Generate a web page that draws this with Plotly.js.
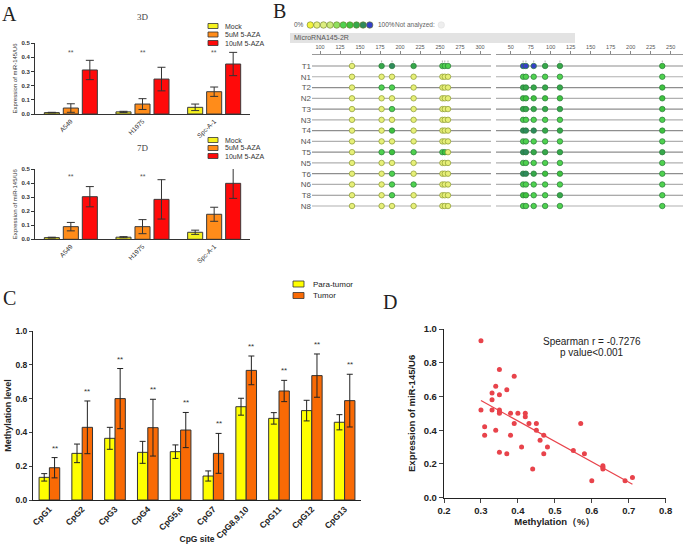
<!DOCTYPE html>
<html><head><meta charset="utf-8">
<script src="https://cdn.plot.ly/plotly-3.0.1.min.js"></script>
<style>html,body{margin:0;padding:0;background:#fff}#chart{width:685px;height:544px}</style>
</head><body><div id="chart"></div>
<script>
// ---------- Panel A data ----------
const cellLines = ['A549', 'H1975', 'Spc-A-1'];
const treatments = ['Mock', '5uM 5-AZA', '10uM 5-AZA'];
const a3dMock = [0.010, 0.015, 0.047];
const a3dMockErr = [0.002, 0.004, 0.023];
const a3d5uM = [0.042, 0.070, 0.157];
const a3d5uMErr = [0.030, 0.038, 0.033];
const a3d10uM = [0.310, 0.246, 0.352];
const a3d10uMErr = [0.068, 0.083, 0.082];
const a7dMock = [0.012, 0.015, 0.050];
const a7dMockErr = [0.003, 0.004, 0.015];
const a7d5uM = [0.090, 0.090, 0.178];
const a7d5uMErr = [0.030, 0.050, 0.050];
const a7d10uM = [0.303, 0.284, 0.398];
const a7d10uMErr = [0.072, 0.140, 0.107];

// ---------- Panel B data ----------
const rowLabels = ['T1','N1','T2','N2','T3','N3','T4','N4','T5','N5','T6','N6','T8','N8'];
const cpgLeftPos = [140, 177, 190, 217, 253, 256, 260];
const cpgLeftNum = ['1','2','3','4','5','6','7'];
const cpgRightPos = [65.5, 69, 78.75, 93, 111.5, 239.5];
const cpgRightNum = ['1','2','3','4','5','6'];
const rulerLeftTicks = [100,125,150,175,200,225,250,275,300];
const rulerRightTicks = [50,75,100,125,150,175,200,225,250];
const methColors = ['#f4f43c','#e6ef78','#dcee80','#c8ea7a','#8fe05e','#4fd14f','#3fc23f','#36a84a','#2e8a5c','#3540c8'];
// methylation level index (0 = 0%, 9 = 100%) per row, per CpG site
const levelsLeft = [
  [1,7,8,7,5,5,5],
  [1,1,1,1,1,1,1],
  [1,5,5,1,1,1,1],
  [1,1,1,1,1,1,1],
  [1,1,5,1,1,1,1],
  [1,1,1,1,1,1,1],
  [1,1,6,1,1,1,1],
  [1,1,1,1,1,1,1],
  [1,5,6,5,5,6,1],
  [1,1,1,1,1,1,1],
  [1,1,5,1,1,1,1],
  [1,1,5,5,1,1,1],
  [1,1,5,1,1,1,1],
  [1,1,1,1,1,1,1]
];
const levelsRight = [
  [9,9,9,7,7,6],
  [5,5,5,5,5,5],
  [7,7,7,7,7,6],
  [6,6,6,6,6,6],
  [7,7,7,7,7,6],
  [5,5,5,5,5,5],
  [8,8,8,7,7,6],
  [5,5,5,5,5,5],
  [8,8,7,7,7,7],
  [5,5,5,5,5,5],
  [8,8,7,6,6,5],
  [5,5,5,5,5,5],
  [6,6,5,5,7,5],
  [5,5,5,5,5,5]
];

// ---------- Panel C data ----------
const cpgSites = ['CpG1','CpG2','CpG3','CpG4','CpG5,6','CpG7','CpG8,9,10','CpG11','CpG12','CpG13'];
const paraTumor = [0.134, 0.276, 0.365, 0.282, 0.286, 0.142, 0.552, 0.483, 0.529, 0.460];
const paraTumorErr = [0.022, 0.055, 0.065, 0.065, 0.040, 0.030, 0.050, 0.034, 0.061, 0.045];
const tumor = [0.191, 0.430, 0.600, 0.428, 0.414, 0.276, 0.767, 0.645, 0.736, 0.588];
const tumorErr = [0.060, 0.156, 0.178, 0.168, 0.104, 0.118, 0.085, 0.063, 0.128, 0.156];

// ---------- Panel D data ----------
const methylation = [0.30,0.30,0.31,0.31,0.33,0.33,0.33,0.34,0.34,0.35,0.35,0.35,0.35,0.35,0.35,0.37,0.37,0.38,0.38,0.39,0.39,0.40,0.41,0.42,0.42,0.43,0.44,0.45,0.45,0.46,0.47,0.47,0.48,0.55,0.57,0.58,0.60,0.63,0.63,0.63,0.69,0.71];
const expression  = [0.93,0.52,0.42,0.37,0.62,0.58,0.52,0.66,0.40,0.76,0.61,0.52,0.51,0.50,0.27,0.64,0.26,0.50,0.37,0.72,0.44,0.50,0.30,0.50,0.48,0.44,0.17,0.44,0.40,0.34,0.37,0.26,0.30,0.28,0.44,0.26,0.10,0.19,0.18,0.17,0.10,0.12];

// ---------- helpers ----------
const W = 685, H = 544;
const px = x => x / W, py = y => 1 - y / H;
const sans = 'Liberation Sans, Arial, sans-serif';
const serif = 'Liberation Serif, Times New Roman, serif';

const traces = [];
const shapes = [];
const annotations = [];

// Panel A bars
const aColors = ['#f6f21e', '#ff8c1a', '#ff0a0a'];
const aCenters = [-0.265, 0, 0.265];
const aWidth = 0.21;
function addA(valsList, errsList, xa, ya) {
  valsList.forEach((vals, k) => {
    traces.push({
      type: 'bar', x: cellLines, y: vals, xaxis: xa, yaxis: ya, name: treatments[k],
      width: aWidth, offset: aCenters[k] - aWidth / 2,
      marker: {color: aColors[k], line: {color: '#3a3a3a', width: 1}},
      error_y: {type: 'data', array: errsList[k], color: '#333', thickness: 1, width: 4},
      showlegend: false, hoverinfo: 'y'
    });
  });
}
addA([a3dMock, a3d5uM, a3d10uM], [a3dMockErr, a3d5uMErr, a3d10uMErr], 'x', 'y');
addA([a7dMock, a7d5uM, a7d10uM], [a7dMockErr, a7d5uMErr, a7d10uMErr], 'x2', 'y2');

// Panel A legends & titles & stars
function aLegend(yRows) {
  yRows.forEach((yy, k) => {
    shapes.push({type: 'rect', xref: 'paper', yref: 'paper', x0: px(208), x1: px(218), y0: py(yy + 2.5), y1: py(yy - 2.5),
      fillcolor: aColors[k], line: {color: '#333', width: 0.8}});
    annotations.push({xref: 'paper', yref: 'paper', x: px(223), y: py(yy), xanchor: 'left', yanchor: 'middle',
      text: treatments[k], showarrow: false, font: {family: sans, size: 7, color: '#333'}});
  });
}
aLegend([26, 34.5, 43]);
aLegend([140, 148, 156]);
annotations.push({xref: 'paper', yref: 'paper', x: px(143), y: py(17), text: '3D', showarrow: false, font: {family: serif, size: 9, color: '#444'}});
annotations.push({xref: 'paper', yref: 'paper', x: px(143), y: py(148), text: '7D', showarrow: false, font: {family: serif, size: 9, color: '#444'}});
const star3d = [0.43, 0.43, 0.43], star7d = [0.45, 0.45, 0.51];
cellLines.forEach((c, i) => {
  annotations.push({xref: 'x', yref: 'y', x: c, y: star3d[i], text: '**', showarrow: false, font: {family: sans, size: 7, color: '#555'}});
  annotations.push({xref: 'x2', yref: 'y2', x: c, y: star7d[i], text: '**', showarrow: false, font: {family: sans, size: 7, color: '#555'}});
});

// Panel B
function bTrace(positions, levels, xa) {
  const x = [], y = [], c = [], lc = [];
  levels.forEach((row, i) => row.forEach((lv, j) => {
    x.push(positions[j]); y.push(i); c.push(methColors[lv]);
    lc.push(lv <= 3 ? '#8a9a30' : '#2a7a3a');
  }));
  return {type: 'scatter', mode: 'markers', x, y, xaxis: xa, yaxis: 'y3', cliponaxis: false,
    marker: {size: 5.5, color: c, line: {color: lc, width: 0.7}}, hoverinfo: 'skip', showlegend: false};
}
rowLabels.forEach((r, i) => {
  const col = r[0] === 'T' ? '#8e8e8e' : '#b0b0b0';
  ['x3 domain', 'x4 domain'].forEach(xr => shapes.push({type: 'line', xref: xr, yref: 'y3', x0: 0, x1: 1, y0: i, y1: i, line: {color: col, width: 1.2}, layer: 'below'}));
});
traces.push(bTrace(cpgLeftPos, levelsLeft, 'x3'));
traces.push(bTrace(cpgRightPos, levelsRight, 'x4'));
function siteLabels(pos, nums, xa) {
  pos.forEach((p, j) => {
    annotations.push({xref: xa, yref: 'y3', x: p, y: -0.62, yanchor: 'bottom', text: nums[j], showarrow: false, font: {family: sans, size: 5, color: '#555'}});
    shapes.push({type: 'line', xref: xa, yref: 'y3', x0: p, x1: p, y0: -0.55, y1: -0.35, line: {color: '#777', width: 0.6}});
  });
}
siteLabels(cpgLeftPos, cpgLeftNum, 'x3');
siteLabels(cpgRightPos, cpgRightNum, 'x4');
// B legend
traces.push({type: 'scatter', mode: 'markers', x: methColors.map((_, i) => i), y: methColors.map(() => 0), xaxis: 'x5', yaxis: 'y5',
  marker: {size: 6.5, color: methColors, line: {color: '#6a7a2a', width: 0.6}}, hoverinfo: 'skip', showlegend: false, cliponaxis: false});
annotations.push({xref: 'paper', yref: 'paper', x: px(292), y: py(25), xanchor: 'left', text: '0%', showarrow: false, font: {family: sans, size: 6.5, color: '#555'}});
annotations.push({xref: 'paper', yref: 'paper', x: px(376), y: py(25), xanchor: 'left', text: '100%', showarrow: false, font: {family: sans, size: 6.5, color: '#555'}});
annotations.push({xref: 'paper', yref: 'paper', x: px(393), y: py(25), xanchor: 'left', text: 'Not analyzed:', showarrow: false, font: {family: sans, size: 6.5, color: '#666'}});
shapes.push({type: 'circle', xref: 'paper', yref: 'paper', x0: px(438), x1: px(444.5), y0: py(28.2), y1: py(21.8), fillcolor: '#eeeeee', line: {color: '#e0e0e0', width: 0.6}});
shapes.push({type: 'rect', xref: 'paper', yref: 'paper', x0: px(290), x1: px(575), y0: py(43), y1: py(33), fillcolor: '#e3e3e3', line: {width: 0}, layer: 'below'});
annotations.push({xref: 'paper', yref: 'paper', x: px(292), y: py(38), xanchor: 'left', text: 'MicroRNA145-2R', showarrow: false, font: {family: sans, size: 7, color: '#555'}});

// Panel C
const cColors = ['#ffff00', '#f96a05'];
const cWidth = 0.315;
traces.push({type: 'bar', x: cpgSites, y: paraTumor, xaxis: 'x6', yaxis: 'y6', name: 'Para-tumor', width: cWidth, offset: -cWidth,
  marker: {color: cColors[0], line: {color: '#333', width: 1}}, error_y: {type: 'data', array: paraTumorErr, color: '#222', thickness: 1, width: 3}, showlegend: false});
traces.push({type: 'bar', x: cpgSites, y: tumor, xaxis: 'x6', yaxis: 'y6', name: 'Tumor', width: cWidth, offset: 0,
  marker: {color: cColors[1], line: {color: '#333', width: 1}}, error_y: {type: 'data', array: tumorErr, color: '#222', thickness: 1, width: 3}, showlegend: false});
cpgSites.forEach((s, i) => {
  annotations.push({xref: 'x6', yref: 'y6', x: i + cWidth / 2, y: tumor[i] + tumorErr[i], yanchor: 'bottom', yshift: 3, text: '**', showarrow: false, font: {family: sans, size: 8, color: '#333'}});
});
[['Para-tumor', 284], ['Tumor', 295.5]].forEach(([t, yy], k) => {
  shapes.push({type: 'rect', xref: 'paper', yref: 'paper', x0: px(293), x1: px(304), y0: py(yy + 3), y1: py(yy - 3), fillcolor: cColors[k], line: {color: '#333', width: 0.8}});
  annotations.push({xref: 'paper', yref: 'paper', x: px(311), y: py(yy), xanchor: 'left', text: t, showarrow: false, font: {family: sans, size: 8, color: '#222'}});
});

// Panel D
traces.push({type: 'scatter', mode: 'markers', x: methylation, y: expression, xaxis: 'x7', yaxis: 'y7',
  marker: {size: 5, color: '#e8434b'}, showlegend: false});
(function () {
  const n = methylation.length;
  const mx = methylation.reduce((a, b) => a + b, 0) / n;
  const my = expression.reduce((a, b) => a + b, 0) / n;
  let sxy = 0, sxx = 0;
  for (let i = 0; i < n; i++) { sxy += (methylation[i] - mx) * (expression[i] - my); sxx += (methylation[i] - mx) ** 2; }
  const b = sxy / sxx, a = my - b * mx;
  const x0 = Math.min(...methylation), x1 = Math.max(...methylation);
  traces.push({type: 'scatter', mode: 'lines', x: [x0, x1], y: [a + b * x0, a + b * x1], xaxis: 'x7', yaxis: 'y7',
    line: {color: '#e8434b', width: 1.2}, showlegend: false, hoverinfo: 'skip'});
})();
annotations.push({xref: 'paper', yref: 'paper', x: px(592), y: py(341.5), text: 'Spearman r = -0.7276', showarrow: false, font: {family: sans, size: 10, color: '#222'}});
annotations.push({xref: 'paper', yref: 'paper', x: px(592), y: py(352.5), text: 'p value<0.001', showarrow: false, font: {family: sans, size: 10, color: '#222'}});

// Panel letters
[['A', 9, 14], ['B', 279, 11], ['C', 9, 298], ['D', 390, 302]].forEach(([t, x, y]) => {
  annotations.push({xref: 'paper', yref: 'paper', x: px(x), y: py(y), text: t, showarrow: false, font: {family: serif, size: 20, color: '#222'}});
});

// explicit anchors (paper 'auto' anchoring would shift texts)
annotations.forEach(a => {
  if (!a.xanchor) a.xanchor = 'center';
  if (!a.yanchor) a.yanchor = 'middle';
});

// ---------- axes ----------
const aY = (dom) => ({domain: dom, range: [0, 0.5], dtick: 0.1, tickformat: '.1f', ticks: 'outside', ticklen: 3, tickcolor: '#333',
  showline: true, linecolor: '#333', linewidth: 1, showgrid: false, zeroline: false, automargin: false,
  tickfont: {family: sans, size: 6, color: '#333', weight: 'bold'},
  title: {text: 'Expression of miR-145/U6', font: {family: sans, size: 6, color: '#333'}, standoff: 3}});
const aX = (anchor) => ({domain: [px(35), px(250)], anchor, type: 'category', range: [-0.5, 2.5], tickangle: -45, ticks: '',
  showline: true, linecolor: '#333', linewidth: 1, showgrid: false, automargin: false,
  tickfont: {family: sans, size: 6.5, color: '#333'}});
const ruler = (dom, range, ticks) => ({domain: dom, anchor: 'free', position: py(54), side: 'top', range, tickvals: ticks,
  ticks: 'outside', ticklen: 3, tickcolor: '#888', showline: true, linecolor: '#999', linewidth: 1, showgrid: false, zeroline: false,
  automargin: false, tickfont: {family: sans, size: 5.5, color: '#555'}});

const layout = {
  width: W, height: H, margin: {l: 0, r: 0, t: 0, b: 0}, paper_bgcolor: '#fff', plot_bgcolor: 'rgba(0,0,0,0)',
  barmode: 'overlay', showlegend: false, font: {family: sans},
  xaxis: aX('y'), yaxis: Object.assign(aY([py(114), py(43)]), {anchor: 'x'}),
  xaxis2: aX('y2'), yaxis2: Object.assign(aY([py(239.3), py(169)]), {anchor: 'x2'}),
  xaxis3: ruler([px(312), px(491)], [90, 313.75], rulerLeftTicks),
  xaxis4: ruler([px(496), px(683)], [31.6, 265.4], rulerRightTicks),
  yaxis3: {domain: [py(211.4), py(60.6)], anchor: 'x3', range: [13.5, -0.5], tickvals: rowLabels.map((_, i) => i), ticktext: rowLabels,
    ticks: '', showline: false, showgrid: false, zeroline: false, automargin: false, tickfont: {family: sans, size: 8, color: '#555'}},
  xaxis5: {domain: [px(307), px(373)], anchor: 'y5', range: [-0.5, 9.5], visible: false},
  yaxis5: {domain: [py(30), py(20)], anchor: 'x5', range: [-1, 1], visible: false},
  xaxis6: {domain: [px(33), px(361)], anchor: 'y6', type: 'category', range: [-0.5, 9.5], tickangle: -45, ticks: '',
    showline: true, linecolor: '#222', linewidth: 1, showgrid: false, automargin: false,
    tickfont: {family: sans, size: 8.5, color: '#222', weight: 'bold'},
    title: {text: 'CpG site', font: {family: sans, size: 8.5, color: '#222', weight: 'bold'}, standoff: 0}},
  yaxis6: {domain: [py(500), py(331)], anchor: 'x6', range: [0, 1], dtick: 0.2, tickformat: '.1f', ticks: 'outside', ticklen: 3,
    showline: true, linecolor: '#222', linewidth: 1, showgrid: false, zeroline: false, automargin: false,
    tickfont: {family: sans, size: 8.5, color: '#222', weight: 'bold'},
    title: {text: 'Methylation level', font: {family: sans, size: 9, color: '#222', weight: 'bold'}, standoff: 2}},
  xaxis7: {domain: [px(444), px(665.7)], anchor: 'y7', range: [0.2, 0.8], dtick: 0.1, tickformat: '.1f', ticks: 'outside', ticklen: 4,
    showline: true, linecolor: '#222', linewidth: 1.2, showgrid: false, zeroline: false, automargin: false,
    tickfont: {family: sans, size: 9.5, color: '#222', weight: 'bold'},
    title: {text: 'Methylation（%）', font: {family: sans, size: 9.5, color: '#222', weight: 'bold'}, standoff: 2}},
  yaxis7: {domain: [py(497.7), py(329)], anchor: 'x7', range: [0, 1], dtick: 0.2, tickformat: '.1f', ticks: 'outside', ticklen: 4,
    showline: true, linecolor: '#222', linewidth: 1.2, showgrid: false, zeroline: false, automargin: false,
    tickfont: {family: sans, size: 9.5, color: '#222', weight: 'bold'},
    title: {text: 'Expression of miR-145/U6', font: {family: sans, size: 9.5, color: '#222', weight: 'bold'}, standoff: 6}},
  shapes, annotations
};

Plotly.newPlot('chart', traces, layout, {staticPlot: true, displayModeBar: false});
</script>
</body></html>
